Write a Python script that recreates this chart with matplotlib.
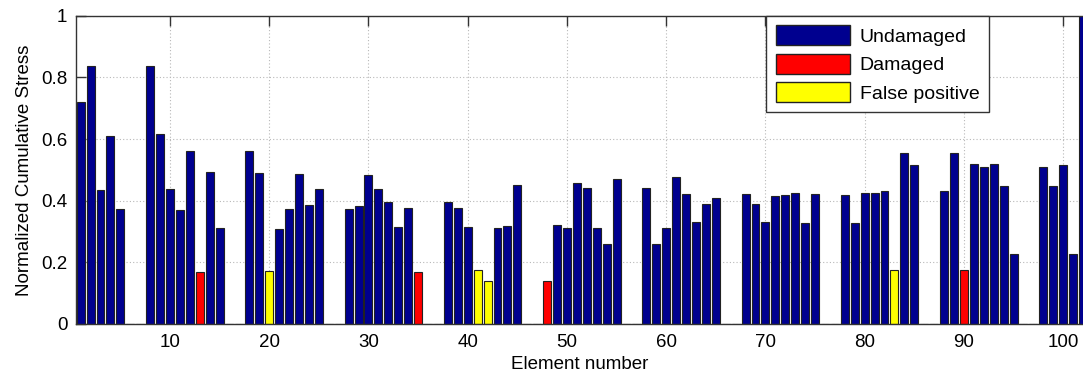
import matplotlib
matplotlib.use("Agg")
import matplotlib.pyplot as plt
from matplotlib.patches import Patch

# normalized cumulative stress per element (0 = no bar drawn)
stress = [
    0.719, 0.837, 0.434, 0.611, 0.372, 0.0, 0.0, 0.836, 0.617, 0.437,
    0.369, 0.561, 0.170, 0.492, 0.312, 0.0, 0.0, 0.561, 0.489, 0.172,
    0.308, 0.372, 0.486, 0.386, 0.438, 0.0, 0.0, 0.372, 0.384, 0.483,
    0.438, 0.397, 0.316, 0.377, 0.169, 0.0, 0.0, 0.397, 0.377, 0.316,
    0.176, 0.138, 0.310, 0.319, 0.451, 0.0, 0.0, 0.139, 0.321, 0.312,
    0.457, 0.440, 0.310, 0.259, 0.471, 0.0, 0.0, 0.440, 0.259, 0.312,
    0.477, 0.421, 0.332, 0.389, 0.410, 0.0, 0.0, 0.421, 0.389, 0.332,
    0.415, 0.419, 0.425, 0.328, 0.423, 0.0, 0.0, 0.419, 0.328, 0.425,
    0.426, 0.431, 0.174, 0.554, 0.517, 0.0, 0.0, 0.431, 0.554, 0.174,
    0.518, 0.510, 0.518, 0.449, 0.227, 0.0, 0.0, 0.510, 0.449, 0.515,
    0.227, 1.0,
]
elements = list(range(1, len(stress) + 1))
damaged = [13, 35, 48, 90]
false_positive = [20, 41, 42, 83]
xtick_vals = [10, 20, 30, 40, 50, 60, 70, 80, 90, 100]
ytick_vals = [0, 0.2, 0.4, 0.6, 0.8, 1]
ytick_labels = ["0", "0.2", "0.4", "0.6", "0.8", "1"]

c_undamaged = "#00008F"
c_damaged = "#FF0000"
c_false = "#FFFF00"

colors = []
for e in elements:
    if e in damaged:
        colors.append(c_damaged)
    elif e in false_positive:
        colors.append(c_false)
    else:
        colors.append(c_undamaged)

plt.rcParams["font.family"] = ["Liberation Sans", "DejaVu Sans"]
plt.rcParams["font.size"] = 13.5

fig = plt.figure(figsize=(10.83, 3.81), dpi=100)
ax = fig.add_axes([75.7 / 1083, 57 / 381, (1083 - 75.7) / 1083, 308.3 / 381])

ax.bar(elements, stress, width=0.8, color=colors, edgecolor="#222222",
       linewidth=0.8, zorder=2)

ax.set_xlim(0.5, 102.0)
ax.set_ylim(0, 1)
ax.set_xticks(xtick_vals)
ax.set_yticks(ytick_vals)
ax.set_yticklabels(ytick_labels)
ax.tick_params(direction="in", length=7, width=1, color="#333333",
               top=True, right=False)
ax.tick_params(axis="x", pad=7)
ax.tick_params(axis="y", pad=6)
ax.grid(True, linestyle=(0, (1, 2)), color="#b8b8b8", linewidth=0.8)
ax.set_axisbelow(True)
for side in ["left", "top", "bottom"]:
    ax.spines[side].set_color("#333333")
    ax.spines[side].set_linewidth(1)
ax.spines["right"].set_visible(False)

ax.set_xlabel("Element number", labelpad=4)
ax.set_ylabel("Normalized Cumulative Stress", labelpad=6)

handles = [
    Patch(facecolor=c_undamaged, edgecolor="#222222", label="Undamaged"),
    Patch(facecolor=c_damaged, edgecolor="#222222", label="Damaged"),
    Patch(facecolor=c_false, edgecolor="#222222", label="False positive"),
]
leg = ax.legend(handles=handles, loc="upper right",
                bbox_to_anchor=((989 - 75.7) / (1083 - 75.7), 1.0),
                borderaxespad=0, fancybox=False, framealpha=1,
                edgecolor="#333333", handlelength=3.8, handleheight=1.2,
                handletextpad=0.5, labelspacing=0.4, borderpad=0.5,
                fontsize=14)
leg.get_frame().set_linewidth(1)

fig.savefig("out.png", dpi=100)
plt.close()
